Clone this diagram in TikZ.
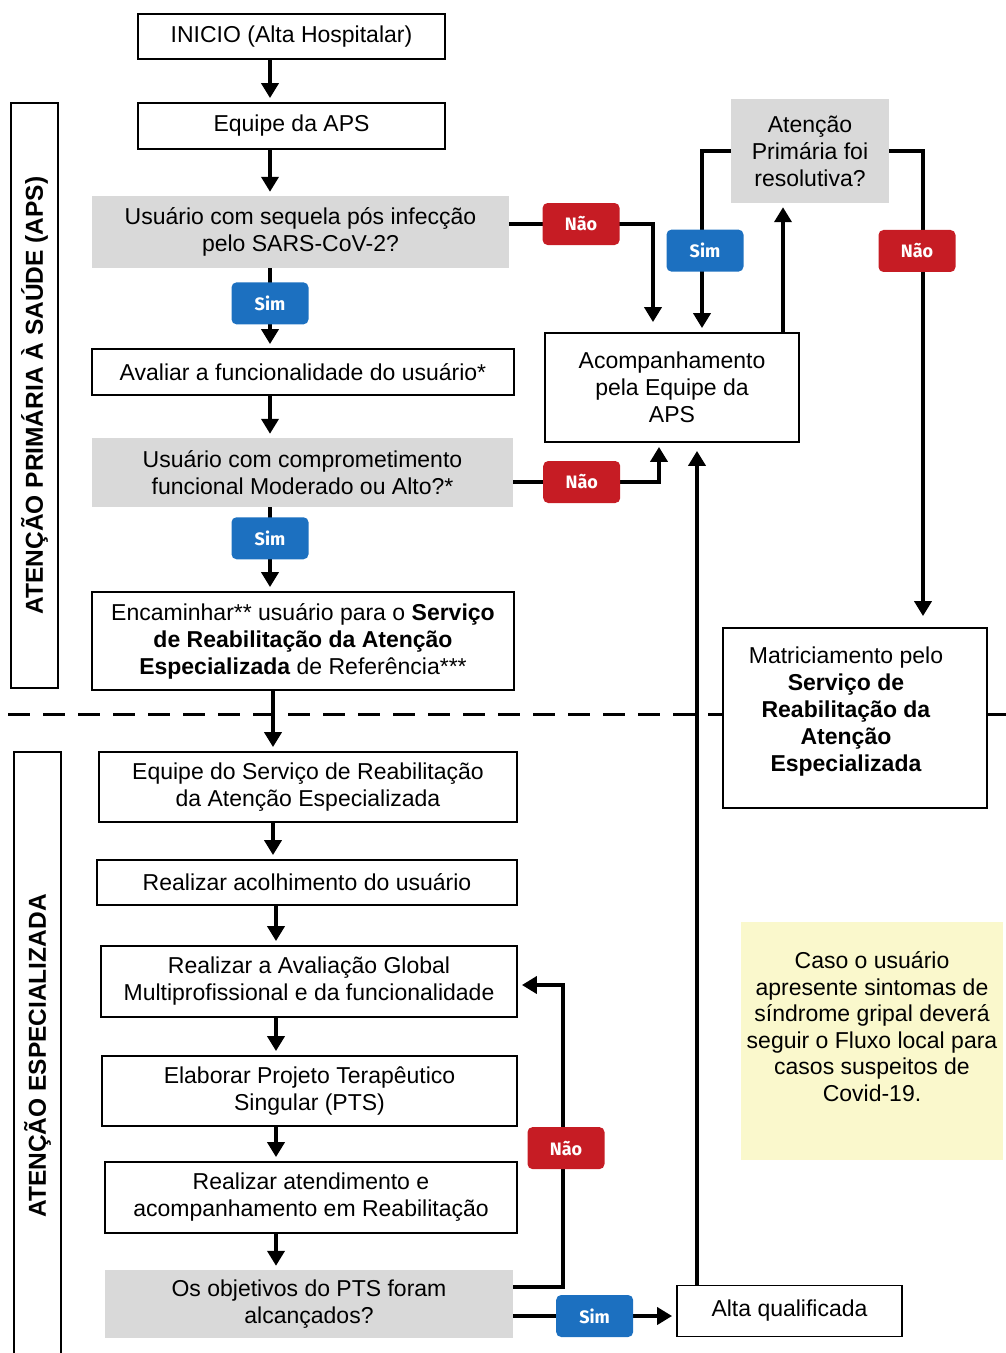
\documentclass[tikz,border=0pt]{standalone}
\usepackage{fontspec}
\setmainfont{Liberation Sans}
\newfontfamily\tagfont{Fira Sans}
\usetikzlibrary{arrows.meta}

\definecolor{boxgray}{RGB}{217,217,217}
\definecolor{naored}{RGB}{198,28,36}
\definecolor{simblue}{RGB}{28,112,192}
\definecolor{noteyellow}{RGB}{250,248,204}

\newcommand\flowfont{\fontsize{23}{27}\selectfont}
\newcommand\notefont{\fontsize{23}{26.5}\selectfont}
\newcommand\secfont{\bfseries\fontsize{24.5}{28}\selectfont}

\tikzset{
  stepbox/.style={draw, line width=1.8pt, fill=white, align=center, inner sep=0pt, font=\flowfont},
  askbox/.style={fill=boxgray, align=center, inner sep=0pt, font=\flowfont},
  secbox/.style={draw, line width=1.6pt, rotate=90, inner sep=0pt, font=\secfont},
  flow/.style={line width=4.3pt, -{Triangle[width=17pt,length=15pt]}, shorten >=4pt},
  tag/.style={rounded corners=5pt, minimum width=77pt, minimum height=42pt, inner sep=0pt,
              text=white, font=\tagfont\bfseries\fontsize{18}{18}\selectfont},
  nao/.style={tag, fill=naored},
  sim/.style={tag, fill=simblue},
}

\begin{document}
\begin{tikzpicture}[x=1pt, y=-1pt]
\useasboundingbox (0,0) rectangle (1006,1353);

% boundary between the two levels of care
\draw[line width=3pt, dash pattern=on 22pt off 13pt] (8,714) -- (1006,714);

% section labels
\node[secbox, minimum width=585pt, minimum height=47pt] (secaps) at (34.5,395.5)
  {ATENÇÃO PRIMÁRIA À SAÚDE (APS)};
\node[secbox, minimum width=608pt, minimum height=47pt] (secesp) at (37.5,1056)
  {ATENÇÃO ESPECIALIZADA};

% primary care column
\node[stepbox, minimum width=307pt, minimum height=45pt] (inicio) at (291.5,36.5) {INICIO (Alta Hospitalar)};
\node[stepbox, minimum width=307pt, minimum height=46pt] (aps) at (291.5,126) {Equipe da APS};
\node[askbox, minimum width=417pt, minimum height=72pt] (sequela) at (300.5,232)
  {Usuário com sequela pós infecção\\pelo SARS-CoV-2?};
\node[stepbox, minimum width=422pt, minimum height=46pt] (avaliar) at (303,372)
  {Avaliar a funcionalidade do usuário*};
\node[askbox, minimum width=421pt, minimum height=69pt] (grau) at (302.5,472.5)
  {Usuário com comprometimento\\funcional Moderado ou Alto?*};
\node[stepbox, minimum width=422pt, minimum height=98pt] (encam) at (303,641)
  {Encaminhar** usuário para o \textbf{Serviço}\\\textbf{de Reabilitação da Atenção}\\\textbf{Especializada} de Referência***};

% specialised care column
\node[stepbox, minimum width=418pt, minimum height=70pt] (esteq) at (308,787)
  {Equipe do Serviço de Reabilitação\\da Atenção Especializada};
\node[stepbox, minimum width=420pt, minimum height=45pt] (acolh) at (307,882.5)
  {Realizar acolhimento do usuário};
\node[stepbox, minimum width=416pt, minimum height=71pt] (global) at (309,981.5)
  {Realizar a Avaliação Global\\Multiprofissional e da funcionalidade};
\node[stepbox, minimum width=415pt, minimum height=70pt] (pts) at (309.5,1091)
  {Elaborar Projeto Terapêutico\\Singular (PTS)};
\node[stepbox, minimum width=412pt, minimum height=71pt] (atend) at (311,1197.5)
  {Realizar atendimento e\\acompanhamento em Reabilitação};
\node[askbox, minimum width=408pt, minimum height=68pt] (objet) at (309,1304)
  {Os objetivos do PTS foram\\alcançados?};
\node[stepbox, minimum width=225pt, minimum height=51pt] (alta) at (789.5,1311) {Alta qualificada};

% right-hand follow-up loop
\node[stepbox, minimum width=254pt, minimum height=109pt] (acomp) at (672,387.5)
  {Acompanhamento\\pela Equipe da\\APS};
\node[askbox, minimum width=158pt, minimum height=104pt] (resol) at (810,151)
  {Atenção\\Primária foi\\resolutiva?};
\node[stepbox, minimum width=264pt, minimum height=180pt] (matric) at (855,718) {};
\node[align=center, inner sep=0pt, font=\flowfont] (matrictxt) at (846,712)
  {Matriciamento pelo\\\textbf{Serviço de}\\\textbf{Reabilitação da}\\\textbf{Atenção}\\\textbf{Especializada}};
\node[fill=noteyellow, minimum width=262pt, minimum height=238pt, inner sep=0pt,
      align=center, font=\notefont] (nota) at (872,1041)
  {Caso o usuário\\apresente sintomas de\\síndrome gripal deverá\\seguir o Fluxo local para\\casos suspeitos de\\Covid-19.\\[2pt]};

% column guides and turning points
\coordinate (cU) at (270,0);
\coordinate (cM) at (273,0);
\coordinate (cL) at (276,0);
\coordinate (cR) at (783,0);
\coordinate (cV) at (697,0);
\coordinate (jA) at (653,224);
\coordinate (jB) at (659,482);
\coordinate (jC) at (702,151);
\coordinate (jD) at (923,151);
\coordinate (jE) at (563,1287);
\coordinate (jF) at (563,985);
\coordinate (jG) at (600,1316);

% main flow
\draw[flow] (inicio.south -| cU) -- (aps.north -| cU);
\draw[flow] (aps.south -| cU) -- (sequela.north -| cU);
\draw[flow] (sequela.south -| cU) -- node[sim, pos=0.44] (t1) {Sim} (avaliar.north -| cU);
\draw[flow] (avaliar.south -| cU) -- (grau.north -| cU);
\draw[flow] (grau.south -| cU) -- node[sim, pos=0.37] (t2) {Sim} (encam.north -| cU);
\draw[flow] (encam.south -| cM) -- (esteq.north -| cM);
\draw[flow] (esteq.south -| cM) -- (acolh.north -| cM);
\draw[flow] (acolh.south -| cL) -- (global.north -| cL);
\draw[flow] (global.south -| cL) -- (pts.north -| cL);
\draw[flow] (pts.south -| cL) -- (atend.north -| cL);
\draw[flow] (atend.south -| cL) -- (objet.north -| cL);

% branches to the primary care follow-up
\draw[flow, shorten >=10pt] (sequela.east |- jA) -- node[nao] (t3) {Não} (jA) -- (acomp.north -| jA);
\draw[flow] (grau.east |- jB) -- node[nao, pos=0.47] (t4) {Não} (jB) -- (acomp.south -| jB);
\draw[flow] (acomp.north -| cR) -- (resol.south -| cR);
\draw[flow] (resol.west) -- (jC) -- node[sim, pos=0.55, xshift=3pt] (t5) {Sim} (acomp.north -| jC);
\draw[flow, shorten >=11pt] (resol.east) -- (jD) -- node[nao, pos=0.21, xshift=-6pt] (t6) {Não} (matric.north -| jD);

% outcome of the rehabilitation plan
\draw[flow] (objet.east |- jE) -- (jE) -- node[nao, pos=0.46, xshift=3pt] (t7) {Não} (jF) -- (global.east |- jF);
\draw[flow] (objet.east |- jG) -- node[sim] (t8) {Sim} (alta.west |- jG);
\draw[flow, shorten >=8pt] (alta.north -| cV) -- (acomp.south -| cV);
\end{tikzpicture}
\end{document}
